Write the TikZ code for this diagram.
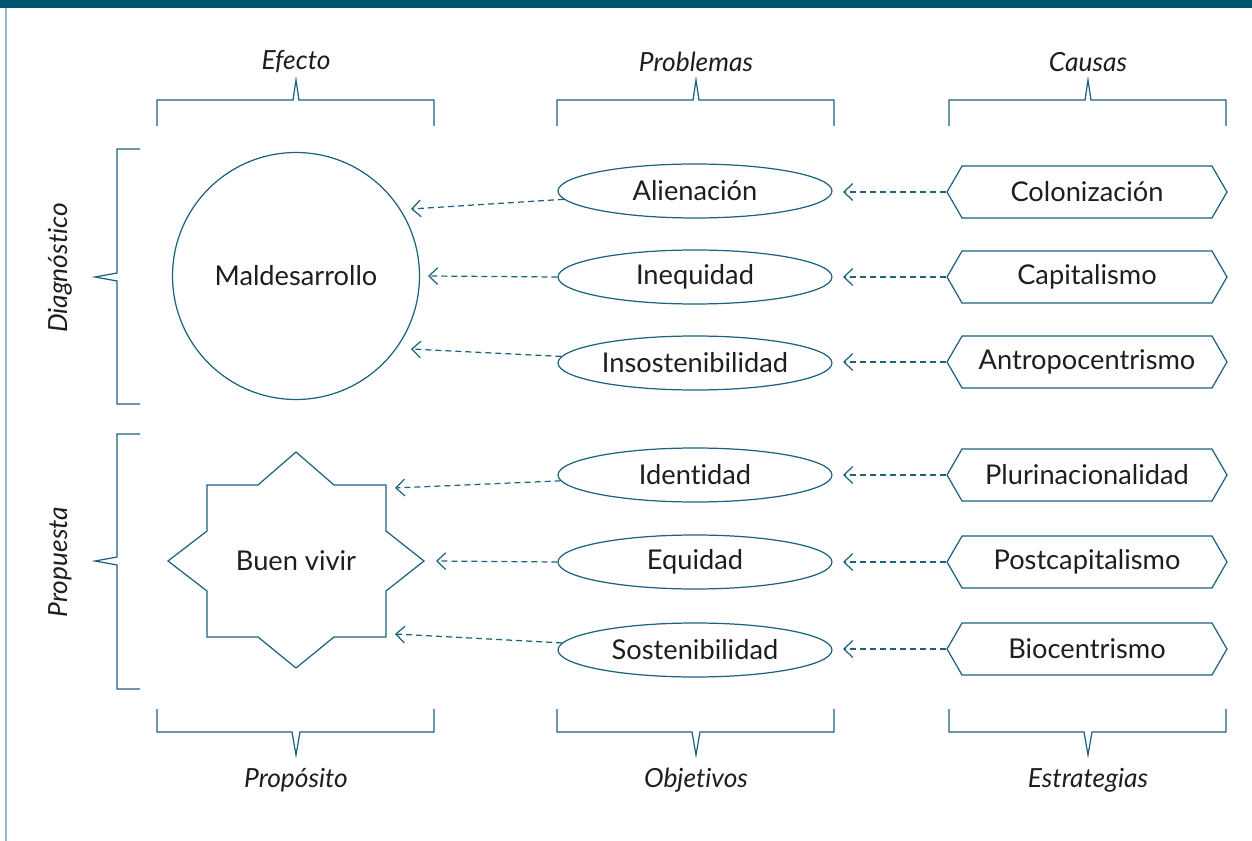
\documentclass[tikz,border=0pt]{standalone}
\usepackage{fontspec}
\setmainfont{Lato}[Ligatures=NoCommon]
\usetikzlibrary{arrows.meta,shapes.geometric,shapes.symbols}
\definecolor{barteal}{RGB}{0,86,112}
\definecolor{lineteal}{RGB}{28,98,125}
\definecolor{edgegray}{RGB}{150,180,195}
\definecolor{txt}{RGB}{30,30,30}
\tikzset{
  lbl/.style={font=\fontsize{15}{18}\selectfont\itshape, text=txt},
  ovalbox/.style={ellipse, draw=lineteal, line width=0.7pt, inner sep=0pt,
    minimum width=5.48cm, minimum height=1.08cm,
    font=\fontsize{15.5}{18}\selectfont, text=txt},
  signbox/.style={signal, signal to=east and west, signal pointer angle=120,
    draw=lineteal, line width=0.7pt, inner sep=0pt,
    minimum width=5.6cm, minimum height=1.04cm,
    font=\fontsize{15.5}{18}\selectfont, text=txt},
  brk/.style={draw=lineteal, line width=0.7pt},
  dasharrow/.style={draw=lineteal, line width=0.7pt, dash pattern=on 3.4pt off 2.3pt,
    -{Straight Barb[length=5pt,width=9.5pt]}}
}
\begin{document}
\begin{tikzpicture}[x=0.02cm, y=-0.02cm]
  \useasboundingbox (0,0) rectangle (1252,841);
  % frame
  \fill[barteal] (0,0) rectangle (1252,8);
  \draw[edgegray, line width=0.8pt] (6,8) -- (6,841);

  % column brackets and titles
  \foreach \cx/\top/\bot in {296/Efecto/Propósito, 696/Problemas/Objetivos, 1088/Causas/Estrategias}{
    \node[lbl] (top\cx) at (\cx,62) {\top};
    \node[lbl] (bot\cx) at (\cx,780) {\bot};
    \draw[brk] (\cx-139,126) -- (\cx-139,100) -- (\cx-3,100) -- (\cx,80)
      -- (\cx+3,100) -- (\cx+138,100) -- (\cx+138,126);
    \draw[brk] (\cx-139,709) -- (\cx-139,732) -- (\cx-4,732) -- (\cx,755)
      -- (\cx+4,732) -- (\cx+138,732) -- (\cx+138,709);
  }

  % row brackets
  \node[lbl, rotate=90] (diag) at (60,268) {Diagnóstico};
  \node[lbl, rotate=90] (prop) at (60,562) {Propuesta};
  \draw[brk] (140,149) -- (117,149) -- (117,273) -- (95,277) -- (117,281) -- (117,404) -- (140,404);
  \draw[brk] (140,434) -- (117,434) -- (117,557) -- (95,561) -- (117,565) -- (117,689) -- (140,689);

  % effect shapes
  \node[circle, draw=lineteal, line width=0.7pt, minimum size=4.94cm, inner sep=0pt,
    font=\fontsize{15.5}{18}\selectfont, text=txt] (mal) at (296,276) {Maldesarrollo};
  \draw[lineteal, line width=0.7pt] (207,485) -- (258,485) -- (296,452) -- (334,485) -- (386,485)
    -- (386,531) -- (424,561) -- (386,591) -- (386,637) -- (334,637) -- (296,668)
    -- (258,637) -- (207,637) -- (207,591) -- (168,561) -- (207,531) -- cycle;
  \node[font=\fontsize{15.5}{18}\selectfont, text=txt] (buen) at (296,561) {Buen vivir};

  % problems / objectives
  \node[ovalbox] (alien) at (695,191) {Alienación};
  \node[ovalbox] (ineq) at (695,277) {Inequidad};
  \node[ovalbox] (insos) at (695,363) {Insostenibilidad};
  \node[ovalbox] (ident) at (695,475) {Identidad};
  \node[ovalbox] (equi) at (695,562) {Equidad};
  \node[ovalbox] (sost) at (695,650) {Sostenibilidad};

  % causes / strategies
  \node[signbox] (colon) at (1087,192) {Colonización};
  \node[signbox] (capit) at (1087,277) {Capitalismo};
  \node[signbox] (antro) at (1087,362) {Antropocentrismo};
  \node[signbox] (pluri) at (1087,475) {Plurinacionalidad};
  \node[signbox] (postc) at (1087,562) {Postcapitalismo};
  \node[signbox] (bioc) at (1087,649) {Biocentrismo};

  % arrow ends
  \coordinate (tAlien) at (411,209);
  \coordinate (tIneq) at (428,276);
  \coordinate (tInsos) at (411,349);
  \coordinate (tIdent) at (395,488);
  \coordinate (tEqui) at (436,561);
  \coordinate (tSost) at (395,634);
  \foreach \n/\y in {alien/192, ineq/277, insos/362, ident/475, equi/562, sost/649}
    \coordinate (r\n) at (843,\y);

  \draw[dasharrow] (alien) -- (tAlien);
  \draw[dasharrow] (ineq.west) -- (tIneq);
  \draw[dasharrow] (insos) -- (tInsos);
  \draw[dasharrow] (ident) -- (tIdent);
  \draw[dasharrow] (equi.west) -- (tEqui);
  \draw[dasharrow] (sost) -- (tSost);

  \draw[dasharrow] (colon.west) -- (ralien);
  \draw[dasharrow] (capit.west) -- (rineq);
  \draw[dasharrow] (antro.west) -- (rinsos);
  \draw[dasharrow] (pluri.west) -- (rident);
  \draw[dasharrow] (postc.west) -- (requi);
  \draw[dasharrow] (bioc.west) -- (rsost);
\end{tikzpicture}
\end{document}
